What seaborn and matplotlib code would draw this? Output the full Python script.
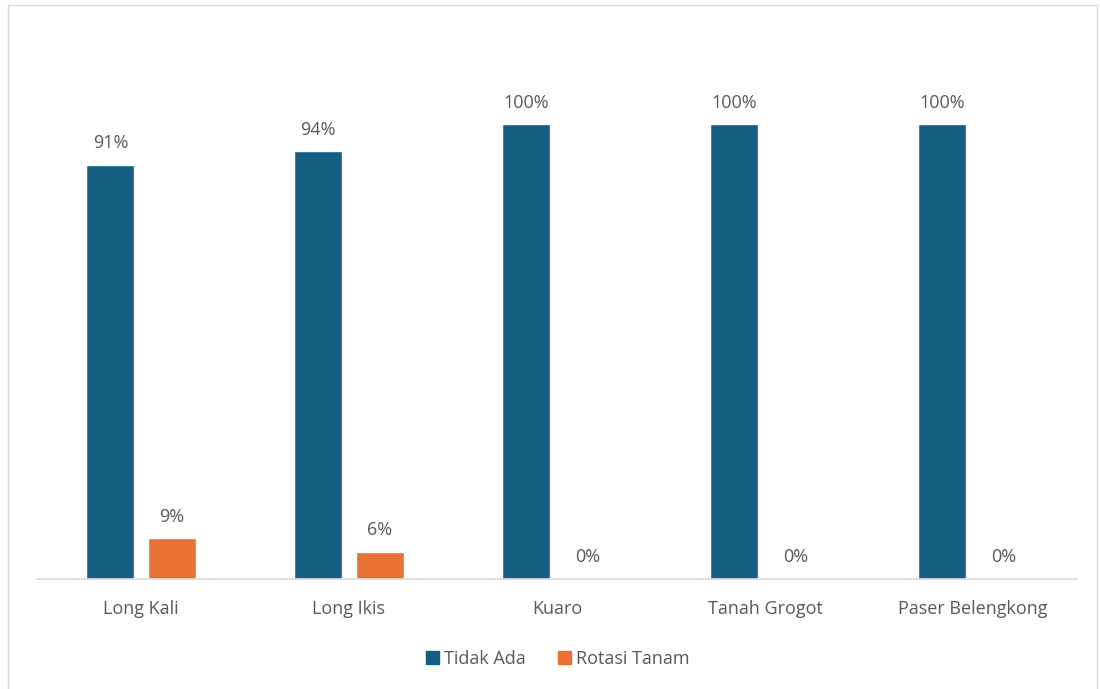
import matplotlib
matplotlib.use("Agg")
import matplotlib.pyplot as plt
import matplotlib.patches as mpatches
import seaborn as sns
import pandas as pd

categories = ["Long Kali", "Long Ikis", "Kuaro", "Tanah Grogot", "Paser Belengkong"]
tidak_ada = [91, 94, 100, 100, 100]
rotasi_tanam = [9, 6, 0, 0, 0]
series_names = ["Tidak Ada", "Rotasi Tanam"]
colors = ["#156082", "#E97132"]

df = pd.DataFrame({
    "Kecamatan": categories * 2,
    "Seri": [series_names[0]] * len(categories) + [series_names[1]] * len(categories),
    "Nilai": tidak_ada + rotasi_tanam,
})

sns.set_theme(style="white")
plt.rcParams['font.family'] = ['Open Sans', 'DejaVu Sans']
text_color = "#595959"

fig = plt.figure(figsize=(11, 6.89), dpi=100)
ax = fig.add_axes([37/1100, 110/689, 1040/1100, 455*1.2/689])

sns.barplot(data=df, x="Kecamatan", y="Nilai", hue="Seri", hue_order=series_names,
            palette=colors, width=0.59, gap=0.22, ax=ax, saturation=1, legend=False)

for cont in ax.containers:
    ax.bar_label(cont, labels=[f"{v:.0f}%" for v in cont.datavalues], padding=9,
                 fontsize=13, color=text_color)

ax.set_ylim(0, 120)
ax.set_xlim(-0.5, 4.5)
ax.set_yticks([])
ax.set_xlabel("")
ax.set_ylabel("")
for s in ["top", "right", "left"]:
    ax.spines[s].set_visible(False)
ax.spines["bottom"].set_color("#D9D9D9")
ax.spines["bottom"].set_linewidth(1.2)
ax.tick_params(axis="x", length=0, pad=15, labelsize=13, labelcolor=text_color)

handles = [mpatches.Patch(color=c, label=n) for c, n in zip(colors, series_names)]
fig.legend(handles=handles, loc="center", bbox_to_anchor=(558/1100, 1 - 659/689),
           ncol=2, frameon=False, fontsize=13, handlelength=0.7, handleheight=0.7,
           handletextpad=0.3, columnspacing=1.8, labelcolor=text_color)

border = mpatches.Rectangle((8/1100, -0.05), 1089/1100, 1 - 5/689 + 0.05,
                            transform=fig.transFigure, fill=False,
                            edgecolor="#D9D9D9", linewidth=1.0)
fig.patches.append(border)

fig.savefig("out.png", dpi=100, facecolor="white")
